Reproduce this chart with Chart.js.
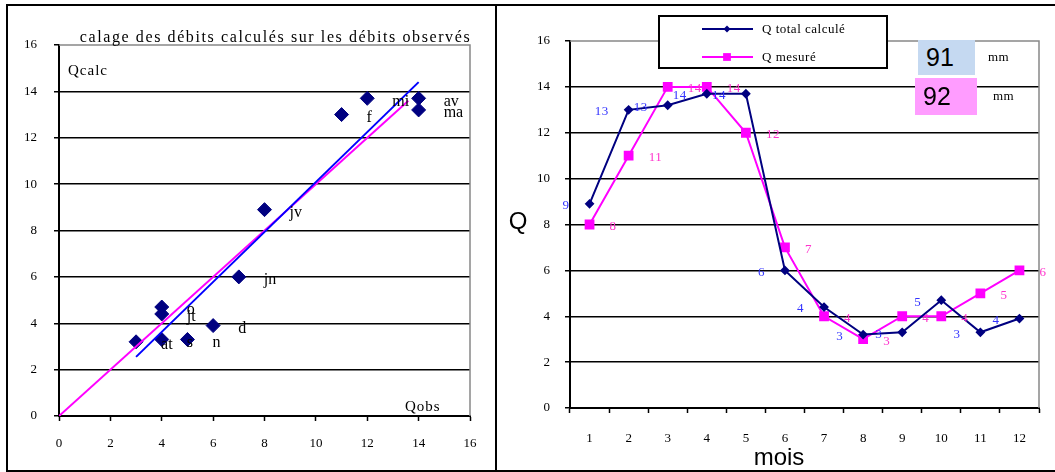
<!DOCTYPE html>
<html>
<head>
<meta charset="utf-8">
<script src="https://cdn.jsdelivr.net/npm/chart.js@4.4.1/dist/chart.umd.min.js"></script>
<style>
  body { margin: 0; background: #fff; }
  #wrap { position: relative; width: 1055px; height: 472px; overflow: hidden; background: #fff; }
  .frame { position: absolute; border: 2px solid #000; box-sizing: border-box; }
  canvas { position: absolute; }
  .total { position: absolute; font-family: "Liberation Sans", Arial, sans-serif; font-size: 25px; line-height: 1; color: #000; box-sizing: border-box; padding-left: 8px; }
  .unit { position: absolute; font-family: "Liberation Serif", "Times New Roman", serif; font-size: 13px; letter-spacing: 0.5px; color: #000; }
</style>
</head>
<body>
<div id="wrap">
  <div class="frame" style="left:6px; top:4px; width:491px; height:468px;"></div>
  <div class="frame" style="left:495px; top:4px; width:570px; height:468px;"></div>
  <canvas id="calage" width="486" height="463" style="left:8px; top:6px;"></canvas>
  <canvas id="mensuel" width="558" height="463" style="left:497px; top:6px;"></canvas>
  <div class="total" id="tot1" style="left:918px; top:40px; width:57px; height:35px; background:#c5d9f1; padding-top:5px;"></div>
  <div class="total" id="tot2" style="left:915px; top:78px; width:62px; height:37px; background:#ff9cff; padding-top:6px;"></div>
  <div class="unit" style="left:988px; top:49px;">mm</div>
  <div class="unit" style="left:993px; top:88px;">mm</div>
</div>
<script>
// ------------------------------ data ------------------------------
const months = ['1', '2', '3', '4', '5', '6', '7', '8', '9', '10', '11', '12'];
const monthCodes = ['jv', 'f', 'ma', 'av', 'mi', 'jn', 'jt', 'at', 's', 'o', 'n', 'd'];
const qCalc = [8.9, 13.0, 13.2, 13.7, 13.7, 6.0, 4.4, 3.2, 3.3, 4.7, 3.3, 3.9];
const qMes = [8, 11, 14, 14, 12, 7, 4, 3, 4, 4, 5, 6];
// trend line and 1:1 line of the left chart (ends)
const trendX = [3, 14];
const trendY = [2.55, 14.4];
const diagX = [0, 13.6];
const diagY = [0, 13.6];
const totals = ['91', '92'];

const serif = '"Liberation Serif", "Times New Roman", serif';
const sans = '"Liberation Sans", Arial, sans-serif';

document.getElementById('tot1').textContent = totals[0];
document.getElementById('tot2').textContent = totals[1];

// ------------------------------ left chart: calage ------------------------------
const leftDecor = {
    id: 'leftDecor',
    afterDatasetsDraw(chart) {
        const { ctx, chartArea: a } = chart;
        ctx.save();
        // month labels next to the diamonds
        ctx.font = '16px ' + serif;
        ctx.fillStyle = '#000';
        ctx.textBaseline = 'middle';
        ctx.textAlign = 'left';
        chart.getDatasetMeta(2).data.forEach((pt, i) => {
            ctx.fillText(monthCodes[i], pt.x + 25, pt.y + 3);
        });
        // plot border (gray top and right)
        ctx.strokeStyle = '#888';
        ctx.lineWidth = 1.5;
        ctx.beginPath();
        ctx.moveTo(a.left, a.top);
        ctx.lineTo(a.right, a.top);
        ctx.lineTo(a.right, a.bottom);
        ctx.stroke();
        // texts
        ctx.letterSpacing = '1px';
        ctx.font = '15px ' + serif;
        ctx.fillText('Qcalc', a.left + 9, a.top + 26);
        ctx.fillText('Qobs', a.right - 65, a.bottom - 9);
        ctx.letterSpacing = '1.6px';
        ctx.font = '16px ' + serif;
        ctx.textAlign = 'center';
        ctx.fillText('calage des débits calculés sur les débits observés', (a.left + a.right) / 2 + 11, a.top - 7);
        ctx.restore();
    }
};

new Chart(document.getElementById('calage'), {
    type: 'scatter',
    data: {
        datasets: [
            {
                data: trendX.map((x, i) => ({ x: x, y: trendY[i] })),
                showLine: true, borderColor: '#0000ff', borderWidth: 2, pointRadius: 0
            },
            {
                data: diagX.map((x, i) => ({ x: x, y: diagY[i] })),
                showLine: true, borderColor: '#ff00ff', borderWidth: 2, pointRadius: 0
            },
            {
                data: qMes.map((x, i) => ({ x: x, y: qCalc[i] })),
                pointStyle: 'rectRot', pointRadius: 7, pointHoverRadius: 7,
                backgroundColor: '#000080', borderColor: '#000080', borderWidth: 1
            }
        ]
    },
    options: {
        responsive: false,
        animation: false,
        layout: { padding: { left: 0, right: 24, top: 39, bottom: 0 } },
        plugins: { legend: { display: false }, tooltip: { enabled: false } },
        scales: {
            x: {
                type: 'linear', min: 0, max: 16,
                ticks: { stepSize: 2, color: '#000', font: { family: serif, size: 13 }, padding: 15, maxRotation: 0 },
                grid: { drawOnChartArea: false, color: '#000', tickLength: 5, tickWidth: 1.5 },
                border: { color: '#000', width: 2 },
                afterFit: s => { s.height = 53; }
            },
            y: {
                min: 0, max: 16,
                ticks: { stepSize: 2, color: '#000', font: { family: serif, size: 13 }, padding: 17 },
                grid: {
                    color: c => (c.tick && c.tick.value === 16) ? 'rgba(0,0,0,0)' : '#000',
                    tickColor: '#000', lineWidth: 1.5, tickLength: 5
                },
                border: { color: '#000', width: 2 },
                afterFit: s => { s.width = 51; }
            }
        }
    },
    plugins: [leftDecor]
});

// ------------------------------ right chart: monthly ------------------------------
const rightDecor = {
    id: 'rightDecor',
    afterDraw(chart) {
        const { ctx, chartArea: a } = chart;
        ctx.save();
        ctx.strokeStyle = '#888';
        ctx.lineWidth = 1.5;
        ctx.beginPath();
        ctx.moveTo(a.left, a.top);
        ctx.lineTo(a.right, a.top);
        ctx.lineTo(a.right, a.bottom);
        ctx.stroke();

        // value labels
        ctx.font = '13px ' + serif;
        ctx.letterSpacing = '0.5px';
        ctx.textBaseline = 'middle';
        ctx.fillStyle = '#3333ff';
        ctx.textAlign = 'right';
        chart.getDatasetMeta(0).data.forEach((pt, i) => {
            ctx.fillText(String(Math.round(qCalc[i])), pt.x - 20, pt.y + 2);
        });
        ctx.fillStyle = '#ff33cc';
        ctx.textAlign = 'left';
        chart.getDatasetMeta(1).data.forEach((pt, i) => {
            ctx.fillText(String(Math.round(qMes[i])), pt.x + 20, pt.y + 2);
        });

        // legend box
        const lx = 162, ly = 10, lw = 228, lh = 52;
        ctx.fillStyle = '#fff';
        ctx.fillRect(lx, ly, lw, lh);
        ctx.strokeStyle = '#000';
        ctx.lineWidth = 2;
        ctx.strokeRect(lx, ly, lw, lh);
        ctx.font = '13px ' + serif;
        ctx.textAlign = 'left';
        ctx.fillStyle = '#000';
        chart.data.datasets.forEach((ds, i) => {
            const y = ly + 13 + i * 28;
            ctx.strokeStyle = ds.borderColor;
            ctx.lineWidth = 2;
            ctx.beginPath();
            ctx.moveTo(lx + 43, y);
            ctx.lineTo(lx + 94, y);
            ctx.stroke();
            ctx.fillStyle = ds.backgroundColor;
            Chart.helpers.drawPoint(ctx, { pointStyle: ds.pointStyle, radius: ds.pointRadius, borderWidth: 0 }, lx + 68, y);
            ctx.fillStyle = '#000';
            ctx.fillText(ds.label, lx + 103, y + 1);
        });

        // axis titles
        ctx.letterSpacing = '0px';
        ctx.font = '24px ' + sans;
        ctx.textAlign = 'center';
        ctx.fillText('Q', 21, 216);
        ctx.textBaseline = 'alphabetic';
        ctx.fillText('mois', 282, 459);
        ctx.restore();
    }
};

new Chart(document.getElementById('mensuel'), {
    type: 'line',
    data: {
        labels: months,
        datasets: [
            {
                label: 'Q total calculé', data: qCalc,
                borderColor: '#000080', backgroundColor: '#000080', borderWidth: 2,
                pointStyle: 'rectRot', pointRadius: 3.5, pointHoverRadius: 3.5
            },
            {
                label: 'Q mesuré', data: qMes,
                borderColor: '#ff00ff', backgroundColor: '#ff00ff', borderWidth: 2,
                pointStyle: 'rect', pointRadius: 5.5, pointHoverRadius: 5.5
            }
        ]
    },
    options: {
        responsive: false,
        animation: false,
        layout: { padding: { left: 0, right: 16, top: 35, bottom: 0 } },
        plugins: { legend: { display: false }, tooltip: { enabled: false } },
        scales: {
            x: {
                offset: true,
                ticks: { color: '#000', font: { family: serif, size: 13 }, padding: 18, maxRotation: 0 },
                grid: { offset: true, drawOnChartArea: false, color: '#000', tickLength: 5, tickWidth: 1.5 },
                border: { color: '#000', width: 2 },
                afterFit: s => { s.height = 61; }
            },
            y: {
                min: 0, max: 16,
                ticks: { stepSize: 2, color: '#000', font: { family: serif, size: 13 }, padding: 15 },
                grid: {
                    color: c => (c.tick && c.tick.value === 16) ? 'rgba(0,0,0,0)' : '#000',
                    tickColor: '#000', lineWidth: 1.5, tickLength: 5
                },
                border: { color: '#000', width: 2 },
                afterFit: s => { s.width = 73; }
            }
        }
    },
    plugins: [rightDecor]
});
</script>
</body>
</html>
